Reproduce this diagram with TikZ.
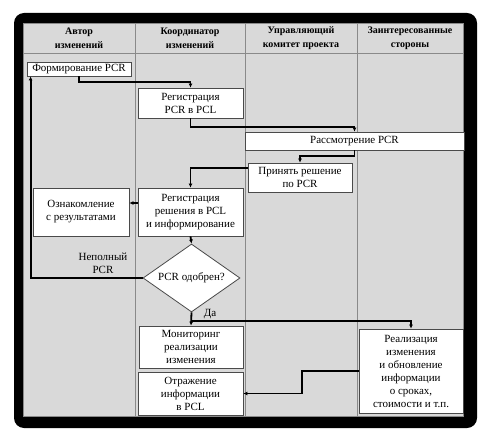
\documentclass[tikz,border=0pt]{standalone}
\usepackage{fontspec}
\setmainfont{Liberation Serif}
\usetikzlibrary{shapes.geometric,arrows.meta}
\definecolor{panel}{HTML}{D9D9D9}
\definecolor{lane}{HTML}{8A8A8A}
\definecolor{boxline}{HTML}{4A4A4A}
\begin{document}
\begin{tikzpicture}[x=1pt,y=-1pt,
  box/.style={draw=boxline,fill=white,line width=0.8pt,inner sep=0pt,align=center,
    font=\fontsize{11}{13}\selectfont},
  hdr/.style={align=center,font=\fontsize{10}{14}\selectfont\bfseries},
  lbl/.style={align=center,font=\fontsize{11}{13}\selectfont},
  conn/.style={line width=1.8pt,-{Latex[length=4pt,width=4pt]}},
  plain/.style={line width=1.8pt}]
\useasboundingbox (0,0) rectangle (489,443);
% frame
\fill[black,rounded corners=10pt] (14,13) rectangle (477,428);
\fill[panel,draw=lane,line width=0.6pt] (23,23) rectangle (463,416);
% lanes
\draw[lane,line width=0.8pt] (135,23) -- (135,416);
\draw[lane,line width=0.8pt] (245,23) -- (245,416);
\draw[lane,line width=0.8pt] (357,23) -- (357,416);
\draw[lane,line width=0.8pt] (23,53) -- (463,53);
% headers
\node[hdr] (h1) at (79,38) {Автор\\изменений};
\node[hdr] (h2) at (190,38) {Координатор\\изменений};
\node[hdr] (h3) at (301,38) {Управляющий\\комитет проекта};
\node[hdr] (h4) at (410,38) {Заинтересованные\\стороны};
% nodes
\node[box,minimum width=104pt,minimum height=14pt] (form) at (79,69) {Формирование PCR};
\node[box,minimum width=105pt,minimum height=30pt] (reg1) at (190.5,103) {Регистрация\\PCR в PCL};
\node[box,minimum width=219pt,minimum height=18pt] (rass) at (354.5,141) {Рассмотрение PCR};
\node[box,minimum width=104pt,minimum height=29pt] (prin) at (300,177.5) {Принять решение\\по PCR};
\node[box,minimum width=105pt,minimum height=48pt] (reg2) at (190.5,212) {Регистрация\\решения в PCL\\и информирование};
\node[box,minimum width=96pt,minimum height=48pt] (ozn) at (81,212) {Ознакомление\\с результатами};
\node[box,shape=diamond,shape aspect=1.4,minimum width=97pt,minimum height=68pt] (dia) at (191.5,278) {PCR одобрен?};
\node[box,minimum width=104pt,minimum height=42pt] (mon) at (191,347) {Мониторинг\\реализации\\изменения};
\node[box,minimum width=105pt,minimum height=43pt] (otr) at (190.5,393.5) {Отражение\\информации\\в PCL};
\node[box,minimum width=104pt,minimum height=84pt] (real) at (411,371) {Реализация\\изменения\\и обновление\\информации\\о сроках,\\стоимости и т.п.};
% labels
\node[lbl] (nep) at (103,263) {Неполный\\PCR};
\node[lbl] (da) at (210,314) {Да};
% connectors
\draw[conn] (form.south) -- ++(0,6) -| (reg1.north);
\draw[conn] (reg1.south) -- ++(0,9) -| (rass.north);
\draw[conn] (rass.south) -- ++(0,6) -| (prin.north);
\draw[conn] ([yshift=9.5pt]prin.west) -| (reg2.north);
\draw[conn] ([yshift=9pt]reg2.west) -- ([yshift=9pt]ozn.east);
\draw[conn] (reg2.south) -- (dia.north);
\draw[conn] (dia.west) -| ([xshift=4pt]form.south west);
\draw[conn] (dia.south) -- (mon.north);
\coordinate (br) at (191.5,321);
\draw[conn] (br) -| (real.north);
\draw[conn] (real.west) -- ++(-57,0) |- (otr.east);
\end{tikzpicture}
\end{document}
